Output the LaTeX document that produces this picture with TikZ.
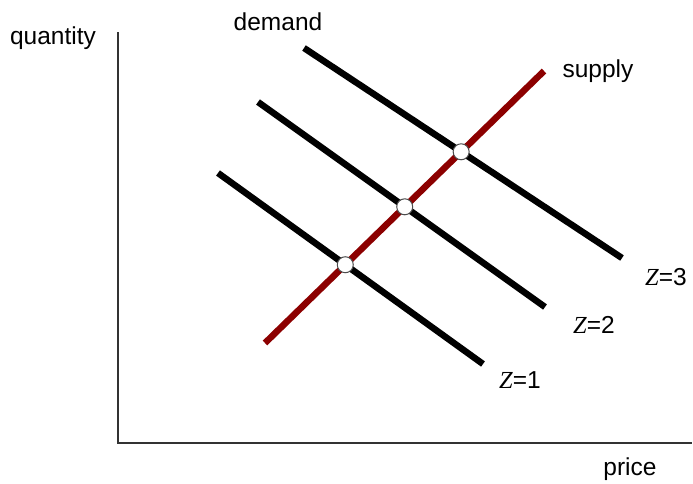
\documentclass[tikz,border=0pt]{standalone}
\usepackage{fontspec}
\setmainfont{Liberation Sans}
\newfontfamily\zfont{Liberation Serif}
\usepackage{tikz}
\usetikzlibrary{intersections}
\definecolor{supplyred}{rgb}{0.55,0.0,0.0}

\begin{document}
\begin{tikzpicture}[x=1pt,y=-1pt,
    curve/.style={line width=6.5pt},
    eq/.style={circle,draw=black!70,fill=white,line width=1pt,inner sep=0pt,minimum size=16pt},
    lbl/.style={font=\fontsize{24.5}{28}\selectfont}]
    \useasboundingbox (0,0) rectangle (693,483);
    % axes
    \coordinate (o) at (118,443);
    \coordinate (top) at (118,32);
    \coordinate (right) at (692,443);
    \draw[black!80,line width=1.3pt] (top) -- (o) -- (right);
    \node[lbl] (qlab) at (53,38) {quantity};
    \node[lbl] (plab) at (630,469) {price};
    % demand curves
    \coordinate (d1a) at (218,173); \coordinate (d1b) at (483,364);
    \coordinate (d2a) at (258,102); \coordinate (d2b) at (545,307);
    \coordinate (d3a) at (304,48);  \coordinate (d3b) at (622,258);
    \draw[curve,name path=d1] (d1a) -- (d1b);
    \draw[curve,name path=d2] (d2a) -- (d2b);
    \draw[curve,name path=d3] (d3a) -- (d3b);
    % supply curve
    \coordinate (sa) at (265,343); \coordinate (sb) at (544,71);
    \draw[curve,supplyred,name path=sup] (sa) -- (sb);
    % equilibria
    \path[name intersections={of=sup and d1,by=e1}];
    \path[name intersections={of=sup and d2,by=e2}];
    \path[name intersections={of=sup and d3,by=e3}];
    \foreach \e in {e1,e2,e3} {
        \node[eq] (c\e) at (\e) {};
    }
    % labels
    \node[lbl] (dlab) at (278,22) {demand};
    \node[lbl] (slab) at (598,71) {supply};
    \node[lbl] (z1) at (520,380) {{\zfont\itshape Z}=1};
    \node[lbl] (z2) at (594,325) {{\zfont\itshape Z}=2};
    \node[lbl] (z3) at (666,277) {{\zfont\itshape Z}=3};
\end{tikzpicture}
\end{document}
